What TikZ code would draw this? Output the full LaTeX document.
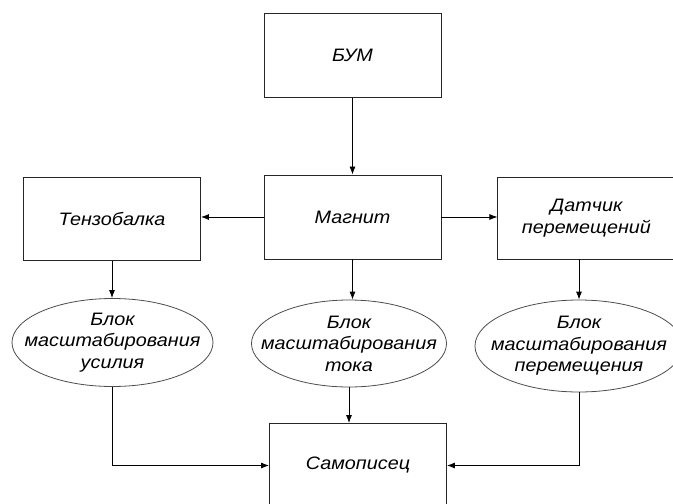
\documentclass[tikz,border=0pt]{standalone}
\usepackage{fontspec}
\newfontfamily\lab{Liberation Sans}[FakeStretch=1.1]
\usetikzlibrary{shapes.geometric,arrows.meta,calc}
\begin{document}
\begin{tikzpicture}[x=1pt,y=-1pt,
  every node/.style={font=\lab\itshape\fontsize{18}{21.5}\selectfont, align=center, inner sep=0pt},
  blk/.style={draw=black!85, line width=0.9pt, rectangle, minimum width=177pt, minimum height=84pt},
  ell/.style={draw=black!70, line width=0.8pt, ellipse, inner xsep=-40pt, inner ysep=-20pt},
  con/.style={draw=black, line width=0.8pt},
  arr/.style={con, -{Latex[length=8pt,width=6pt]}}]
\useasboundingbox (0,0) rectangle (673,504);
\node[blk] (bum) at (352.5,55.8) {БУМ};
\node[blk] (mag) at (352.5,217) {Магнит};
\node[blk, minimum height=83pt] (ten) at (112,219) {Тензобалка};
\node[blk, minimum height=82pt] (dat) at (586.4,218) {Датчик\\перемещений};
\node[ell, minimum width=201pt, minimum height=88pt] (e1) at (112.5,342.5) {Блок\\масштабирования\\усилия};
\node[ell, minimum width=195pt, minimum height=87pt] (e2) at (349,343.5) {Блок\\масштабирования\\тока};
\node[ell, minimum width=208pt, minimum height=92pt] (e3) at (579,346) {Блок\\масштабирования\\перемещения};
\node[blk] (sam) at (358,465.5) {Самописец};
\draw[arr] (bum.south) -- (mag.north);
\draw[arr] (mag.west) -- (mag.west -| ten.east);
\draw[arr] (mag.east) -- (mag.east -| dat.west);
\draw[arr] (ten.south) -- (ten.south |- e1.north);
\draw[arr] (mag.south) -- (mag.south |- e2.north);
\draw[arr] (dat.south -| e3.north) -- (e3.north);
\draw[arr] (e1.south) |- (sam.west);
\draw[arr] (e2.south) -- (e2.south |- sam.north);
\draw[arr] (e3.south) |- (sam.east);
\end{tikzpicture}
\end{document}
